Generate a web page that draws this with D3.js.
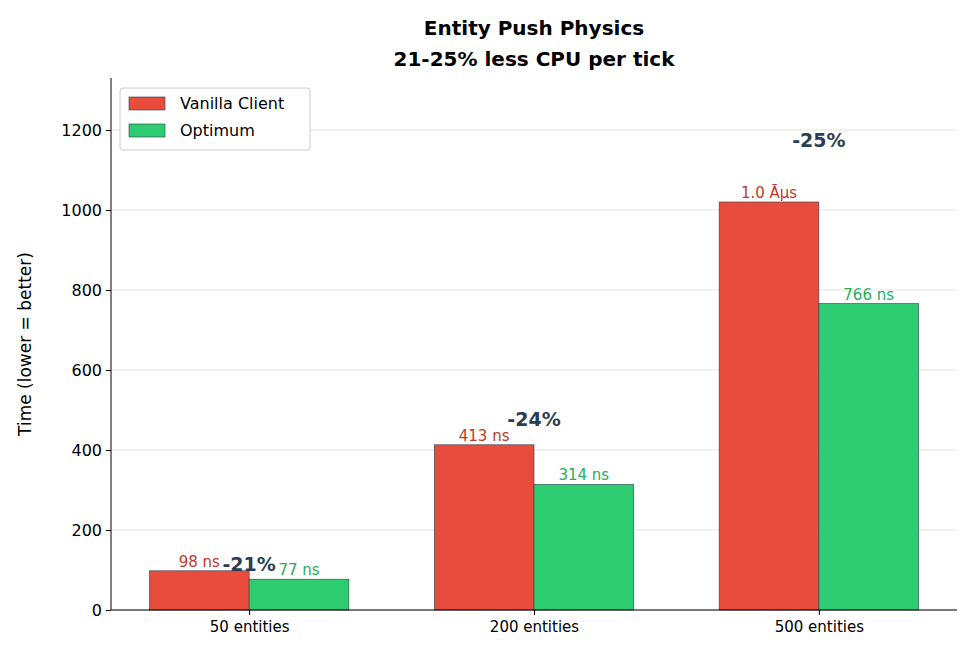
<!DOCTYPE html>
<html>
<head>
<style>
body { margin: 0; background: #fff; }
text { font-family: "DejaVu Sans", sans-serif; }
</style>
<script src="https://d3js.org/d3.v7.min.js"></script>
</head>
<body>
<svg id="chart" width="972" height="658"></svg>
<script>
var categories = ["50 entities", "200 entities", "500 entities"];
var vanilla = [98, 413, 1020];
var optimum = [77, 314, 766];
var vanillaLabels = ["98 ns", "413 ns", "1.0 µs"];
var optimumLabels = ["77 ns", "314 ns", "766 ns"];
var pctLabels = ["-21%", "-24%", "-25%"];
var yTicks = [0, 200, 400, 600, 800, 1000, 1200];

var svg = d3.select("#chart");
var mLeft = 111, mRight = 957, mTop = 78, mBottom = 610;
var barW = 0.35;

var x = d3.scaleLinear().domain([-0.485, 2.485]).range([mLeft, mRight]);
var y = d3.scaleLinear().domain([0, 1330]).range([mBottom, mTop]);

// grid
svg.append("g").selectAll("line").data(yTicks).enter().append("line")
  .attr("x1", mLeft).attr("x2", mRight)
  .attr("y1", d => y(d)).attr("y2", d => y(d))
  .attr("stroke", "#e3e3e3").attr("stroke-width", 1);

function bars(vals, offset, fill) {
  svg.append("g").selectAll("rect").data(vals).enter().append("rect")
    .attr("x", (d, i) => x(i + offset))
    .attr("y", d => y(d))
    .attr("width", x(barW) - x(0))
    .attr("height", d => y(0) - y(d))
    .attr("fill", fill).attr("stroke", "#2c3e50").attr("stroke-width", 0.6);
}
bars(vanilla, -barW, "#e74c3c");
bars(optimum, 0, "#2ecc71");

function labels(vals, txt, offset, color) {
  svg.append("g").selectAll("text").data(vals).enter().append("text")
    .attr("x", (d, i) => x(i + offset + barW / 2))
    .attr("y", d => y(d) - 4)
    .attr("text-anchor", "middle").attr("font-size", 15).attr("fill", color)
    .text((d, i) => txt[i]);
}
labels(vanilla, vanillaLabels, -barW, "#c0392b");
labels(optimum, optimumLabels, 0, "#27ae60");

svg.append("g").selectAll("text").data(vanilla).enter().append("text")
  .attr("x", (d, i) => x(i))
  .attr("y", d => y(d * 1.15) + 6)
  .attr("text-anchor", "middle").attr("font-size", 19).attr("font-weight", "bold")
  .attr("fill", "#2c3e50")
  .text((d, i) => pctLabels[i]);

// axes
var yAxis = d3.axisLeft(y).tickValues(yTicks).tickFormat(d3.format("d")).tickSize(5).tickPadding(4);
var gy = svg.append("g").attr("transform", "translate(" + mLeft + ",0)").call(yAxis);
var xAxis = d3.axisBottom(x).tickValues([0, 1, 2]).tickFormat(i => categories[i]).tickSize(5).tickPadding(6);
var gx = svg.append("g").attr("transform", "translate(0," + mBottom + ")").call(xAxis);
[gx, gy].forEach(g => {
  g.selectAll("text").attr("font-size", 16).attr("fill", "#000").style("font-family", "DejaVu Sans");
  g.selectAll("line").attr("stroke", "#000");
  g.select(".domain").attr("stroke", "#000");
});
gx.selectAll("text").attr("font-size", 15);
gy.select(".domain").attr("d", "M0," + mTop + "V" + mBottom);
gx.select(".domain").attr("d", "M" + mLeft + ",0H" + mRight);

svg.append("text").attr("transform", "translate(31," + ((mTop + mBottom) / 2) + ") rotate(-90)")
  .attr("text-anchor", "middle").attr("font-size", 17).text("Time (lower = better)");

svg.append("text").attr("x", 534).attr("y", 35).attr("text-anchor", "middle")
  .attr("font-size", 20).attr("font-weight", "bold").text("Entity Push Physics");
svg.append("text").attr("x", 534).attr("y", 66).attr("text-anchor", "middle")
  .attr("font-size", 20).attr("font-weight", "bold").text("21-25% less CPU per tick");

// legend
var lg = svg.append("g");
lg.append("rect").attr("x", 120).attr("y", 88).attr("width", 190).attr("height", 62)
  .attr("rx", 3).attr("fill", "#fff").attr("stroke", "#ccc");
[["Vanilla Client", "#e74c3c"], ["Optimum", "#2ecc71"]].forEach((d, i) => {
  lg.append("rect").attr("x", 129).attr("y", 97 + i * 27).attr("width", 36).attr("height", 13)
    .attr("fill", d[1]).attr("stroke", "#2c3e50").attr("stroke-width", 0.6);
  lg.append("text").attr("x", 180).attr("y", 109 + i * 27).attr("font-size", 16).text(d[0]);
});
</script>
</body>
</html>
